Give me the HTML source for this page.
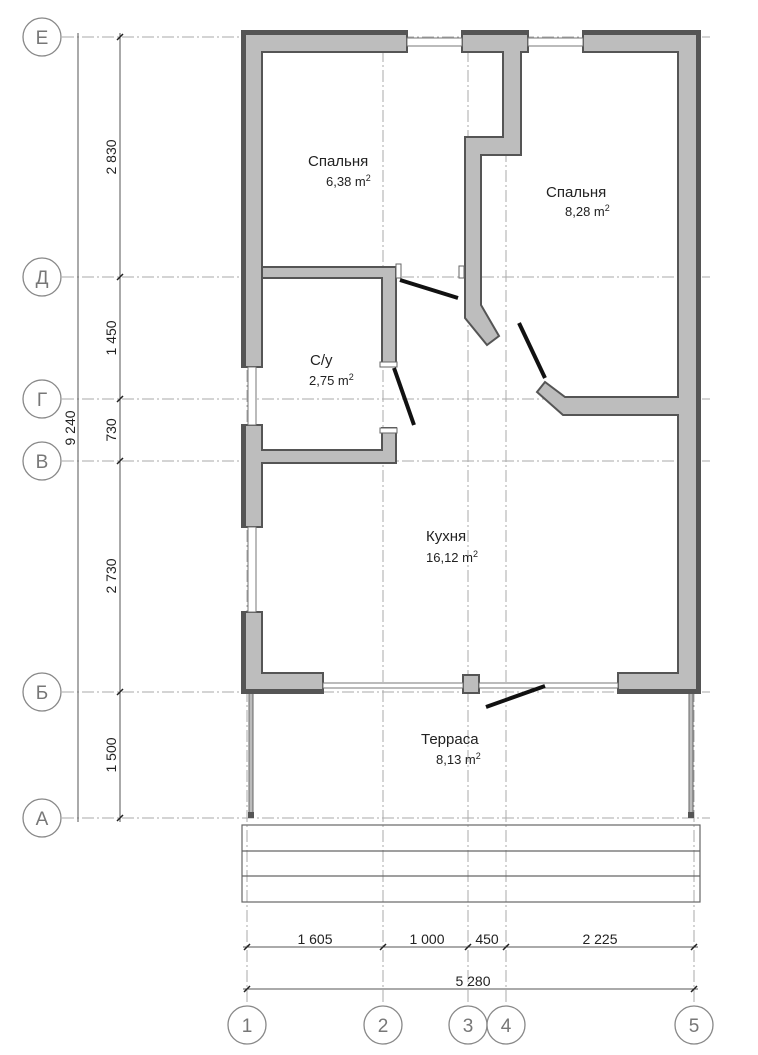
<!DOCTYPE html>
<html><head><meta charset="utf-8"><style>
html,body{margin:0;padding:0;background:#fff}
svg{display:block}
text{font-family:"Liberation Sans","DejaVu Sans",sans-serif;fill:#222}
.ax{stroke:#aaa;stroke-width:1;stroke-dasharray:12 3 2 3;fill:none}
.w{fill:#bdbdbd;stroke:#555;stroke-width:2}
.c{fill:#fff;stroke:#888;stroke-width:1.3}
.ct{font-size:19px;fill:#777;text-anchor:middle}
.d{stroke:#555;stroke-width:1;fill:none}
.dt{font-size:14px;text-anchor:middle}
.door{stroke:#111;stroke-width:4}
.win{fill:#fff;stroke:#777;stroke-width:1}
</style></head><body>
<svg width="758" height="1055" viewBox="0 0 758 1055">
<!-- axes -->
<g class="ax">
<line x1="62" y1="37" x2="710" y2="37"/>
<line x1="62" y1="277" x2="710" y2="277"/>
<line x1="62" y1="399" x2="710" y2="399"/>
<line x1="62" y1="461" x2="710" y2="461"/>
<line x1="62" y1="692" x2="710" y2="692"/>
<line x1="62" y1="818" x2="710" y2="818"/>
<line x1="247" y1="30" x2="247" y2="1005"/>
<line x1="383" y1="30" x2="383" y2="1005"/>
<line x1="468" y1="30" x2="468" y2="1005"/>
<line x1="506" y1="30" x2="506" y2="1005"/>
<line x1="694" y1="30" x2="694" y2="1005"/>
</g>
<!-- left circles -->
<g>
<circle class="c" cx="42" cy="37" r="19"/><text class="ct" x="42" y="44">Е</text>
<circle class="c" cx="42" cy="277" r="19"/><text class="ct" x="42" y="284">Д</text>
<circle class="c" cx="42" cy="399" r="19"/><text class="ct" x="42" y="406">Г</text>
<circle class="c" cx="42" cy="461" r="19"/><text class="ct" x="42" y="468">В</text>
<circle class="c" cx="42" cy="692" r="19"/><text class="ct" x="42" y="699">Б</text>
<circle class="c" cx="42" cy="818" r="19"/><text class="ct" x="42" y="825">А</text>
<circle class="c" cx="247" cy="1025" r="19"/><text class="ct" x="247" y="1032">1</text>
<circle class="c" cx="383" cy="1025" r="19"/><text class="ct" x="383" y="1032">2</text>
<circle class="c" cx="468" cy="1025" r="19"/><text class="ct" x="468" y="1032">3</text>
<circle class="c" cx="506" cy="1025" r="19"/><text class="ct" x="506" y="1032">4</text>
<circle class="c" cx="694" cy="1025" r="19"/><text class="ct" x="694" y="1032">5</text>
</g>
<!-- left dims -->
<line class="d" x1="120" y1="33" x2="120" y2="822"/>
<line class="d" x1="78" y1="33" x2="78" y2="822"/>
<g stroke="#222" stroke-width="1.5">
<line x1="117" y1="40" x2="123" y2="34"/><line x1="117" y1="280" x2="123" y2="274"/>
<line x1="117" y1="402" x2="123" y2="396"/><line x1="117" y1="464" x2="123" y2="458"/>
<line x1="117" y1="695" x2="123" y2="689"/><line x1="117" y1="821" x2="123" y2="815"/>
</g>
<g class="dt">
<text transform="translate(116,157) rotate(-90)">2 830</text>
<text transform="translate(116,338) rotate(-90)">1 450</text>
<text transform="translate(116,430) rotate(-90)">730</text>
<text transform="translate(116,576) rotate(-90)">2 730</text>
<text transform="translate(116,755) rotate(-90)">1 500</text>
<text transform="translate(75,428) rotate(-90)">9 240</text>
</g>
<!-- bottom dims -->
<line class="d" x1="243" y1="947" x2="698" y2="947"/>
<line class="d" x1="243" y1="989" x2="698" y2="989"/>
<g stroke="#222" stroke-width="1.5">
<line x1="244" y1="950" x2="250" y2="944"/><line x1="380" y1="950" x2="386" y2="944"/>
<line x1="465" y1="950" x2="471" y2="944"/><line x1="503" y1="950" x2="509" y2="944"/>
<line x1="691" y1="950" x2="697" y2="944"/>
<line x1="244" y1="992" x2="250" y2="986"/><line x1="691" y1="992" x2="697" y2="986"/>
</g>
<g class="dt">
<text x="315" y="944">1 605</text><text x="427" y="944">1 000</text>
<text x="487" y="944">450</text><text x="600" y="944">2 225</text>
<text x="473" y="986">5 280</text>
</g>
<!-- terrace deck -->
<g fill="none" stroke="#666" stroke-width="1.2">
<rect x="242" y="825" width="458" height="77"/>
<line x1="242" y1="851" x2="700" y2="851"/>
<line x1="242" y1="876" x2="700" y2="876"/>
</g>
<rect x="249" y="693" width="4" height="124" fill="#bbb" stroke="#666"/>
<rect x="689" y="693" width="4" height="124" fill="#bbb" stroke="#666"/>
<rect x="248" y="812" width="6" height="6" fill="#555"/>
<rect x="688" y="812" width="6" height="6" fill="#555"/>
<!-- walls -->
<g class="w">
<!-- top left segment + left wall to window -->
<polygon points="242,31 407,31 407,52 262,52 262,367 242,367"/>
<polygon points="462,31 528,31 528,52 521,52 521,155 481,155 481,305 499,336 487,345 465,318 465,137 503,137 503,52 462,52"/>
<polygon points="583,31 700,31 700,693 618,693 618,673 678,673 678,415 563,415 537,392 545,382 565,397 678,397 678,52 583,52"/>
<polygon points="242,425 262,425 262,450 382,450 382,428 396,428 396,463 262,463 262,527 242,527"/>
<polygon points="262,267 396,267 396,365 382,365 382,278 262,278"/>
<polygon points="242,612 262,612 262,673 323,673 323,693 242,693"/>
<rect x="463" y="675" width="16" height="18"/>
</g>
<!-- darker outer edges -->
<g stroke="#555" stroke-width="4" fill="none">
<polyline points="244,367 244,33 407,33"/>
<line x1="462" y1="33" x2="528" y2="33"/>
<polyline points="583,33 698,33 698,691 618,691"/>
<line x1="244" y1="425" x2="244" y2="527"/>
<polyline points="244,612 244,691 323,691"/>
</g>
<!-- windows -->
<g class="win">
<rect x="407" y="38" width="55" height="8"/>
<rect x="528" y="38" width="55" height="8"/>
<rect x="248" y="367" width="8" height="58"/>
<rect x="248" y="527" width="8" height="85"/>
<rect x="323" y="683" width="140" height="5"/>
<rect x="479" y="683" width="139" height="5"/>
</g>
<!-- door jambs -->
<g fill="#fff" stroke="#666">
<rect x="396" y="264" width="5" height="14"/>
<rect x="459" y="266" width="5" height="12"/>
<rect x="380" y="362" width="17" height="5"/>
<rect x="380" y="428" width="17" height="5"/>
</g>
<!-- doors -->
<line class="door" x1="400" y1="280" x2="458" y2="298"/>
<line class="door" x1="394" y1="368" x2="414" y2="425"/>
<line class="door" x1="519" y1="323" x2="545" y2="378"/>
<line class="door" x1="486" y1="707" x2="545" y2="686"/>
<!-- labels -->
<g style="font-size:15px">
<text x="308" y="166">Спальня</text>
<text x="326" y="186" style="font-size:13px">6,38 m<tspan dy="-5" font-size="9">2</tspan></text>
<text x="546" y="197">Спальня</text>
<text x="565" y="216" style="font-size:13px">8,28 m<tspan dy="-5" font-size="9">2</tspan></text>
<text x="310" y="365">С/у</text>
<text x="309" y="385" style="font-size:13px">2,75 m<tspan dy="-5" font-size="9">2</tspan></text>
<text x="426" y="541">Кухня</text>
<text x="426" y="562" style="font-size:13px">16,12 m<tspan dy="-5" font-size="9">2</tspan></text>
<text x="421" y="744">Терраса</text>
<text x="436" y="764" style="font-size:13px">8,13 m<tspan dy="-5" font-size="9">2</tspan></text>
</g>
</svg>
</body></html>
